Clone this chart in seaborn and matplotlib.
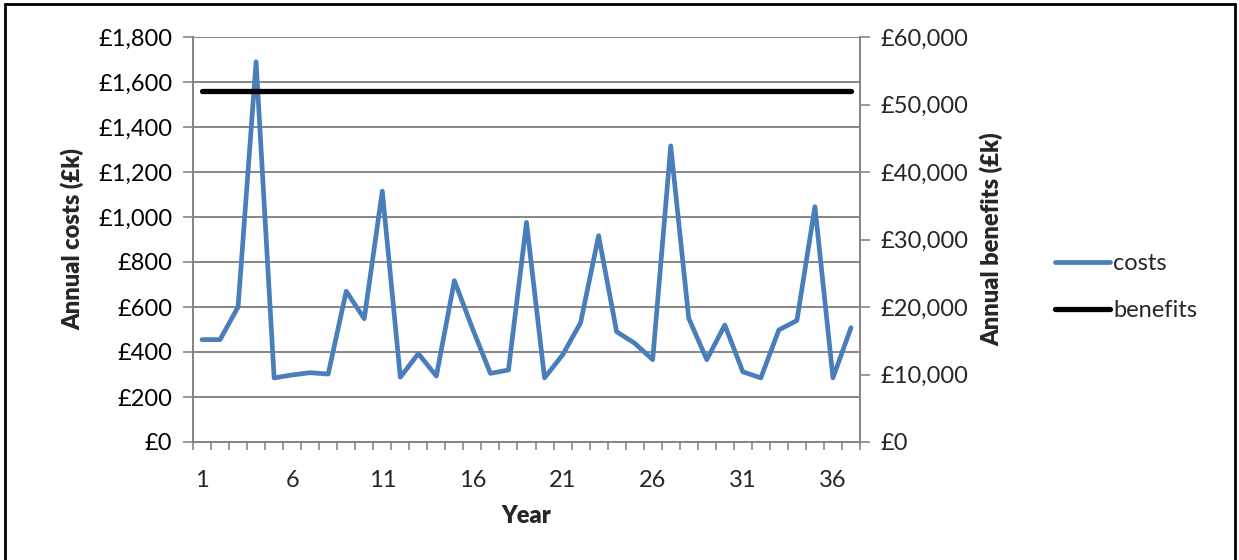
import matplotlib
matplotlib.use("Agg")
import matplotlib.pyplot as plt
import matplotlib.ticker as mticker
from matplotlib.lines import Line2D
import numpy as np
import pandas as pd
import seaborn as sns

# Annual series, years 1-37
years = list(range(1, 38))
costs = [455, 455, 600, 1690, 285, 298, 308, 302, 670, 548, 1115, 288, 393, 293,
         717, 505, 305, 320, 976, 285, 387, 530, 917, 490, 439, 366, 1316, 550,
         366, 520, 312, 285, 498, 540, 1046, 285, 508]
benefits = [52000] * 37

cost_ticks = list(range(0, 1801, 200))
benefit_ticks = list(range(0, 60001, 10000))
year_labels = list(range(1, 37, 5))

df = pd.DataFrame({"Year": years, "costs": costs, "benefits": benefits})

sns.set_theme(style="white")
plt.rcParams["font.family"] = ["Lato", "DejaVu Sans"]

GREY = "#868686"
BLUE = "#4A7EBB"
FS = 17
COST_LW = 3.4
BEN_LW = 3.8

fig = plt.figure(figsize=(12.39, 5.6), dpi=100)
ax = fig.add_axes([193 / 1239, (560 - 442) / 560, (860 - 193) / 1239, 405 / 560])
ax2 = ax.twinx()

sns.lineplot(data=df, x="Year", y="costs", ax=ax, color=BLUE, linewidth=COST_LW,
             solid_capstyle="round", solid_joinstyle="round")
sns.lineplot(data=df, x="Year", y="benefits", ax=ax2, color="black",
             linewidth=BEN_LW, solid_capstyle="round")

# left axis
ax.set_xlim(0.5, 37.5)
ax.set_ylim(0, 1800)
ax.set_yticks(cost_ticks)
ax.yaxis.set_major_formatter(mticker.FuncFormatter(lambda v, p: f"£{v:,.0f}"))
ax.grid(axis="y", color=GREY, lw=1.4)
ax.grid(axis="x", visible=False)
ax.set_axisbelow(True)
ax.tick_params(axis="y", which="major", direction="out", length=7, width=1.2,
               color=GREY, labelsize=FS, labelcolor="black", pad=8, left=True)

# category axis: tick marks between years, labels every fifth year
ax.set_xticks(year_labels)
ax.set_xticks(np.arange(0.5, 38, 1.0), minor=True)
ax.tick_params(axis="x", which="major", length=0, labelsize=FS, pad=20)
ax.tick_params(axis="x", which="minor", direction="out", length=6, width=1.2,
               color=GREY, bottom=True)

# right axis
ax2.set_ylim(0, 60000)
ax2.set_yticks(benefit_ticks)
ax2.yaxis.set_major_formatter(mticker.FuncFormatter(lambda v, p: f"£{v:,.0f}"))
ax2.grid(False)
ax2.tick_params(axis="y", direction="out", length=7, width=1.2, color=GREY,
                labelsize=FS, pad=8, right=True)

for a in (ax, ax2):
    a.spines["top"].set_visible(False)
    for s in ("left", "right", "bottom"):
        a.spines[s].set_color(GREY)
        a.spines[s].set_linewidth(1.4)

ax.set_xlabel("Year", fontsize=FS, fontweight="heavy", labelpad=10)
ax.set_ylabel("Annual costs (£k)", fontsize=FS, fontweight="heavy", labelpad=10)
ax2.set_ylabel("Annual benefits (£k)", fontsize=FS, fontweight="heavy", labelpad=8)

handles = [Line2D([], [], color=BLUE, lw=COST_LW, solid_capstyle="round"),
           Line2D([], [], color="black", lw=BEN_LW, solid_capstyle="round")]
fig.legend(handles, ["costs", "benefits"], loc="center left",
           bbox_to_anchor=(1034 / 1239, 1 - 287 / 560), frameon=False,
           fontsize=FS, handlelength=2.3, handletextpad=0.15, labelspacing=1.1)

# outer frame
for xs, ys in (([0.004, 0.004], [0, 0.993]), ([0.004, 0.997], [0.993, 0.993]),
               ([0.997, 0.997], [0, 0.993])):
    fig.add_artist(Line2D(xs, ys, color="black", lw=2.0, transform=fig.transFigure))

fig.savefig("out.png", dpi=100, facecolor="white")
